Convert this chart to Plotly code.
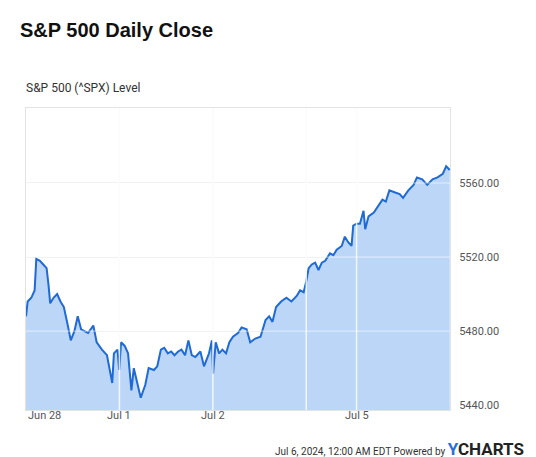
import plotly.graph_objects as go

# Session day labels and trading session lengths (minutes)
day_labels = ["Jun 28", "Jul 1", "Jul 2", "Jul 3", "Jul 5"]
session_minutes = [390, 390, 390, 210, 390]
shown_labels = ["Jun 28", "Jul 1", "Jul 2", "Jul 5"]

# minutes after open, and levels, per session
jun28_min = [0, 7, 22, 36, 43, 58, 72, 86, 94, 101, 115, 130, 144, 158, 173, 187, 202, 216, 230, 245, 259, 281, 295, 317, 338, 360, 367, 382, 389]
jun28_val = [5488, 5496, 5498, 5502, 5519, 5518, 5516, 5514, 5505, 5495, 5498, 5500, 5496, 5493, 5484, 5475, 5480, 5488, 5481, 5480, 5479, 5483, 5474, 5470, 5467, 5452, 5468, 5470, 5459]

jul1_min = [7, 22, 36, 50, 60, 72, 89, 108, 122, 144, 158, 173, 187, 202, 216, 230, 245, 259, 274, 288, 302, 317, 338, 353, 374, 386]
jul1_val = [5474, 5472, 5468, 5448, 5460, 5453, 5444, 5451, 5460, 5459, 5461, 5470, 5471, 5468, 5469, 5467, 5469, 5470, 5467, 5475, 5467, 5466, 5469, 5461, 5468, 5475]

jul2_min = [1, 12, 26, 40, 55, 69, 84, 105, 120, 141, 156, 177, 199, 220, 235, 249, 264, 285, 307, 328, 350, 364, 379, 390]
jul2_val = [5457, 5474, 5468, 5470, 5468, 5474, 5477, 5479, 5482, 5481, 5474, 5476, 5477, 5486, 5488, 5485, 5493, 5496, 5498, 5496, 5499, 5502, 5501, 5507]

jul3_min = [10, 23, 37, 51, 65, 79, 99, 113, 127, 148, 161, 175, 189, 196, 210]
jul3_val = [5514, 5516, 5517, 5513, 5517, 5518, 5522, 5521, 5524, 5526, 5531, 5528, 5526, 5537, 5538]

jul5_min = [14, 29, 36, 50, 72, 86, 108, 122, 137, 158, 180, 194, 216, 238, 252, 274, 295, 317, 338, 360, 374, 389]
jul5_val = [5538, 5545, 5535, 5542, 5544, 5547, 5551, 5550, 5556, 5555, 5554, 5552, 5556, 5559, 5563, 5562, 5559, 5562, 5563, 5565, 5569, 5567]

y_ticks = [5440, 5480, 5520, 5560]

sessions = [(jun28_min, jun28_val), (jul1_min, jul1_val), (jul2_min, jul2_val),
            (jul3_min, jul3_val), (jul5_min, jul5_val)]
starts = []
acc = 0
for m in session_minutes:
    starts.append(acc)
    acc += m
total = acc

xs, ys = [], []
for s, (mins, vals) in zip(starts, sessions):
    xs += [s + m for m in mins]
    ys += vals

W, H = 536, 457
L, R, T, B = 18, 94, 100, 55
pw, ph = W - L - R, H - T - B

fig = go.Figure()
fig.add_trace(go.Scatter(x=xs, y=ys, mode="lines", fill="tozeroy",
                         line=dict(color="#1f6ad4", width=2),
                         fillcolor="#bcd6f8", hoverinfo="skip"))

ymin, ymax = 5437.4, 5600.5
fig.update_layout(
    width=W, height=H,
    margin=dict(l=L, r=R, t=T, b=B, autoexpand=False),
    paper_bgcolor="white", plot_bgcolor="white",
    showlegend=False,
    xaxis=dict(range=[0, total], showgrid=False, zeroline=False,
               showticklabels=False, showline=True, linecolor="#e3e3e3", mirror=True),
    yaxis=dict(range=[ymin, ymax], side="right", tickvals=y_ticks,
               ticktext=[f"{v:.2f}" for v in y_ticks],
               tickfont=dict(family="Roboto, Arial", size=11, color="#555"),
               gridcolor="#ebebeb", zeroline=False, showline=True,
               linecolor="#e3e3e3", mirror=True, ticks="", ticklabelstandoff=6),
)

# vertical day gridlines: grey below, white above fill
for s in starts[1:]:
    fig.add_shape(type="line", x0=s, x1=s, y0=0, y1=1, xref="x", yref="paper",
                  line=dict(color="#ebebeb", width=1), layer="below")
    fig.add_shape(type="line", x0=s, x1=s, y0=0, y1=1, xref="x", yref="paper",
                  line=dict(color="rgba(255,255,255,0.8)", width=1.5), layer="above")
for v in y_ticks[1:]:
    fig.add_shape(type="line", x0=0, x1=1, y0=v, y1=v, xref="paper", yref="y",
                  line=dict(color="rgba(255,255,255,0.6)", width=1), layer="above")

# x tick labels
for lab, s in zip(day_labels, starts):
    if lab not in shown_labels:
        continue
    fig.add_annotation(x=s, y=0, xref="x", yref="paper", yshift=-14,
                       text=lab, showarrow=False,
                       xanchor="left" if s == 0 else "center",
                       font=dict(family="Roboto, Arial", size=11, color="#555"))

def px(x):
    return (x - L) / pw

def py(y):
    return (H - B - y) / ph

fig.add_annotation(xref="paper", yref="paper", x=px(10), y=py(22),
                   text="<b>S&P 500 Daily Close</b>", showarrow=False,
                   xanchor="left", yanchor="middle",
                   font=dict(family="Liberation Sans, Arial", size=20, color="#111"))
fig.add_annotation(xref="paper", yref="paper", x=px(16), y=py(80),
                   text="S&P 500 (^SPX) Level", showarrow=False, xanchor="left", yanchor="middle",
                   font=dict(family="Roboto, Arial", size=12, color="#333"))
fig.add_annotation(xref="paper", yref="paper", x=px(518), y=py(441),
                   text="Jul 6, 2024, 12:00 AM EDT Powered by <b><span style='font-size:17px;color:#2a6fd6'>Y</span><span style='font-size:17px;color:#222'>CHARTS</span></b>",
                   showarrow=False, xanchor="right", yanchor="middle",
                   font=dict(family="Roboto, Arial", size=10, color="#333"))

fig.write_html("out.html")
